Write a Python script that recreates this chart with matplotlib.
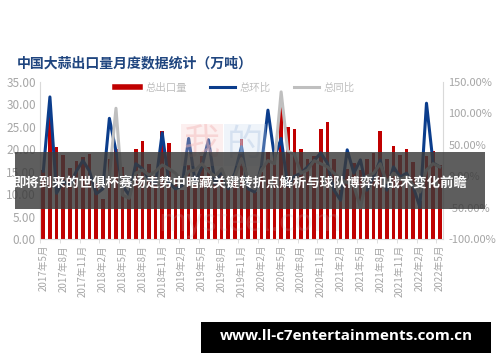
import matplotlib
matplotlib.use('Agg')
import matplotlib.pyplot as plt
import numpy as np
from matplotlib.patches import Rectangle
from matplotlib.lines import Line2D
from matplotlib.ticker import FixedLocator, FuncFormatter

plt.rcParams['font.family'] = ['Noto Sans CJK SC', 'DejaVu Sans']

# 月份 2017年5月 ~ 2022年5月
months = []
for y in range(2017, 2023):
    for m in range(1, 13):
        if (y == 2017 and m < 5) or (y == 2022 and m > 5):
            continue
        months.append('%d年%d月' % (y, m))

# 总出口量 (万吨)
export = [15.5, 28.5, 20.6, 18.8, 15.8, 17.4, 18.2, 19.0, 12.5, 9.0,
          17.8, 20.0, 16.0, 9.5, 20.0, 21.8, 16.7, 14.0, 24.1, 21.4,
          13.5, 11.0, 16.5, 12.0, 18.5, 16.0, 12.5, 14.5, 11.5, 13.0,
          22.3, 14.0, 10.5, 15.0, 19.5, 18.8, 30.0, 25.0, 24.6, 20.0,
          17.8, 18.4, 24.6, 26.0, 17.8, 11.0, 15.6, 17.0, 15.5, 17.8,
          19.1, 24.1, 17.8, 20.8, 18.7, 20.0, 17.2, 8.6, 18.5, 19.7, 16.4]

# 总环比 (%)
mom = [8, 126, -27, -8, -15, 8, 25, 8, -28, -20,
       92, 40, -15, -30, 20, 12, -5, -12, 69, -10,
       -20, -15, 60, -10, 15, 58, -12, 8, -20, 5,
       47, -20, -25, 15, 105, 30, 60, -15, 0, 5,
       15, 25, 37, 21, -22, -38, 42, 5, 26, -22,
       -1, 26, -22, 15, -1, 5, -17, -49, 116, 21, 15]

# 总同比 (%), 前10个月无数据
yoy = [np.nan] * 10 + [
       0, 108, -30, -35, 5, 10, 2, 8, 18, 12,
       5, -10, 8, 10, 20, 8, 0, 12, -15, 0,
       28, -5, -20, 10, 25, 20, 134, 40, 35, 5,
       10, 25, 20, 15, 5, -5, -10, -15, -50, 0,
       5, 20, -10, 5, -5, 0, -15, -25, 10, 20, 15]

x = np.arange(len(months))
grey = '#a6a6a6'

fig = plt.figure(figsize=(5, 3.62), dpi=100)
ax = fig.add_axes([0.08, 0.339, 0.806, 0.435])
ax2 = ax.twinx()

ax.bar(x, export, width=0.55, color='#c00000', label='总出口量', zorder=2)
l1, = ax2.plot(x, mom, color='#0b3d8c', lw=2.2, label='总环比', zorder=3)
l2, = ax2.plot(x, yoy, color='#bfbfbf', lw=2.2, label='总同比', zorder=4)

ax.set_xlim(-0.5, len(months) - 0.5)
ax.set_ylim(0, 35)
ax.set_yticks(np.arange(0, 36, 5))
ax.yaxis.set_major_formatter(FuncFormatter(lambda v, p: '%.2f' % v))
ax2.set_ylim(-100, 150)
ax2.set_yticks(np.arange(-100, 151, 50))
ax2.yaxis.set_major_formatter(FuncFormatter(lambda v, p: '%.2f%%' % v))

ax.set_xticks(x[::3])
ax.set_xticklabels(months[::3], rotation=90, fontsize=7, color=grey)
ax.tick_params(axis='x', length=0, pad=4)
ax.xaxis.set_minor_locator(FixedLocator(x[::3] - 0.5))
ax.tick_params(axis='x', which='minor', length=3, color='#d9d9d9')

ax.tick_params(axis='y', length=0, labelsize=8.5, labelcolor=grey, pad=3)
ax2.tick_params(axis='y', length=0, labelsize=8, labelcolor=grey, pad=4)
for a in (ax, ax2):
    a.spines['top'].set_visible(False)
    for s in ('left', 'right', 'bottom'):
        a.spines[s].set_color('#d9d9d9')
ax.spines['right'].set_visible(False)
ax2.spines['left'].set_visible(False)
ax2.spines['bottom'].set_visible(False)

hbar = Line2D([0], [0], color='#c00000', lw=4)
leg = fig.legend([hbar, l1, l2], ['总出口量', '总环比', '总同比'], loc='center',
                 bbox_to_anchor=(0.47, 0.757), ncol=3, frameon=False,
                 fontsize=7.5, handlelength=2.4, columnspacing=2.2, handletextpad=0.5)
for t in leg.get_texts():
    t.set_color('#bfbfbf')

fig.text(0.034, 0.826, '中国大蒜出口量月度数据统计（万吨）', fontsize=10, fontweight='bold',
         color='#1f457f', va='center', ha='left')

# 水印
fig.text(0.404, 0.60, '我', fontsize=26, color='#f3b6b6', alpha=0.45, ha='center', va='center',
         bbox=dict(facecolor='#f6cccc', edgecolor='none', alpha=0.3, pad=2))
fig.text(0.49, 0.60, '的', fontsize=26, color='#b7cbe6', alpha=0.45, ha='center', va='center',
         bbox=dict(facecolor='#cddbef', edgecolor='none', alpha=0.3, pad=2))
fig.text(0.5, 0.385, 'mysteel.com', fontsize=22, color='#bbbbbb', alpha=0.2, ha='center', va='center')

# 横幅
fig.patches.append(Rectangle((0.03, 0.4227), 0.94, 0.157, transform=fig.transFigure,
                             facecolor='#3a3a3a', alpha=0.82, edgecolor='none', zorder=10))
fig.text(0.479, 0.492, '即将到来的世俱杯赛场走势中暗藏关键转折点解析与球队博弈和战术变化前瞻',
         fontsize=9.6, fontweight='bold', color='white', ha='center', va='center', zorder=11)

# 底部网址
fig.patches.append(Rectangle((0.401, 0.104), 0.581, 0.0055, transform=fig.transFigure,
                             facecolor='#8c8c8c', edgecolor='none', zorder=10))
fig.patches.append(Rectangle((0.401, 0.025), 0.581, 0.086, transform=fig.transFigure,
                             facecolor='black', edgecolor='none', zorder=10))
fig.text(0.693, 0.072, 'www.ll-c7entertainments.com.cn', fontsize=11, fontweight='bold',
         color='white', ha='center', va='center', family=['Open Sans', 'DejaVu Sans'], zorder=11)

fig.savefig('out.png', dpi=100)
